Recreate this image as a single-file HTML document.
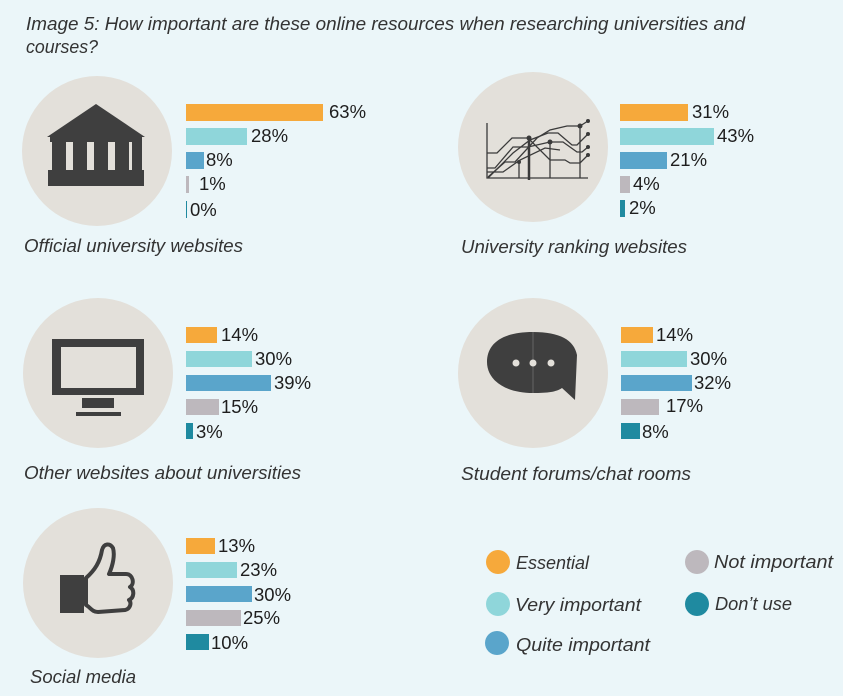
<!DOCTYPE html>
<html><head><meta charset="utf-8"><style>
html,body{margin:0;padding:0;background:#ebf6f9;}
svg{display:block;}
text{font-family:"Liberation Sans",sans-serif;}
.t{font-style:italic;fill:#333;font-size:18px;}
.p{fill:#1e1e1e;font-size:18.5px;}
</style></head><body>
<svg width="843" height="696" viewBox="0 0 843 696" xmlns="http://www.w3.org/2000/svg">
<rect width="843" height="696" fill="#ebf6f9"/>
<text class="t" x="26" y="30" textLength="719" lengthAdjust="spacingAndGlyphs">Image 5: How important are these online resources when researching universities and</text>
<text class="t" x="26" y="53" textLength="72" lengthAdjust="spacingAndGlyphs">courses?</text>

<g fill="#e3e0da">
<circle cx="97" cy="151" r="75"/>
<circle cx="533" cy="147" r="75"/>
<circle cx="98" cy="373" r="75"/>
<circle cx="533" cy="373" r="75"/>
<circle cx="98" cy="583" r="75"/>
</g>

<!-- building -->
<g fill="#3f3f3f">
<polygon points="96,104 145,137 47,137"/>
<rect x="50" y="137" width="92" height="5"/>
<rect x="52" y="142" width="14" height="28"/><rect x="73" y="142" width="14" height="28"/><rect x="94" y="142" width="14" height="28"/><rect x="115" y="142" width="14" height="28"/><rect x="132" y="142" width="10" height="28"/>
<rect x="48" y="170" width="96" height="16"/>
</g>

<!-- chart icon -->
<g fill="none" stroke="#3a3a3a" stroke-width="1.3">
<polyline points="487,123 487,178 588,178"/>
<polyline points="487,153 497,153 512,138 528,138 550,160 565,160 570,163 580,163 588,155"/>
<polyline points="487,168 495,168 513,147 528,147 550,142 563,142 577,152 582,152 588,147"/>
<polyline points="488,178 513,153 530,140 548,133 558,133 572,145 577,145 588,134"/>
<polyline points="488,177 505,162 515,162 537,138 550,130 567,126 580,126 588,121"/>
<polyline points="487,172 503,172 520,160 545,148 560,150"/>
<line x1="519" y1="162" x2="519" y2="178"/>
<line x1="529" y1="138" x2="529" y2="180" stroke-width="2.5"/>
<line x1="550" y1="142" x2="550" y2="178"/>
<line x1="580" y1="126" x2="580" y2="178"/>
</g>
<g fill="#3a3a3a"><circle cx="529" cy="138" r="2.5"/><circle cx="550" cy="142" r="2.5"/><circle cx="580" cy="126" r="2.5"/><circle cx="519" cy="162" r="2"/><circle cx="588" cy="121" r="2"/><circle cx="588" cy="134" r="2"/><circle cx="588" cy="147" r="2"/><circle cx="588" cy="155" r="2"/></g>

<!-- monitor -->
<g fill="#3f3f3f">
<rect x="52" y="339" width="92" height="56"/>
<rect x="82" y="398" width="32" height="10"/>
<rect x="76" y="412" width="45" height="4"/>
</g>
<rect x="61" y="347" width="75" height="41" fill="#e3e0da"/>

<!-- chat bubble -->
<path d="M533,332 C500,332 487,345 487,362 C487,380 505,393 533,393 C548,393 556,392 562,388 L575,400 L577,355 C574,340 560,332 533,332 Z" fill="#3f3f3f"/>
<line x1="533" y1="332" x2="533" y2="393" stroke="#777" stroke-width="0.7"/>
<g fill="#e3e0da"><circle cx="516" cy="363" r="3.5"/><circle cx="533" cy="363" r="3.5"/><circle cx="551" cy="363" r="3.5"/></g>

<!-- thumb -->
<rect x="60" y="575" width="24" height="38" fill="#3f3f3f"/>
<path d="M86,578 C95,570 100,562 102,550 C104,543 110,543 113,548 C115,555 113,565 109,574 L126,574 C133,574 135,584 130,587 C135,590 134,598 129,600 C132,603 130,609 125,610 L98,612 C92,612 90,607 86,605 Z" fill="none" stroke="#3f3f3f" stroke-width="4" stroke-linejoin="round"/>

<!-- bars row1 left -->
<rect x="186" y="104" width="137" height="17" fill="#f6a93b"/><text class="p" x="329" y="118">63%</text>
<rect x="186" y="128" width="61" height="17" fill="#8fd6da"/><text class="p" x="251" y="142">28%</text>
<rect x="186" y="152" width="18" height="17" fill="#5aa5cb"/><text class="p" x="206" y="166">8%</text>
<rect x="186" y="176" width="3" height="17" fill="#bdb8bd"/><text class="p" x="199" y="190">1%</text>
<rect x="186" y="201" width="1" height="17" fill="#1f8aa0"/><text class="p" x="190" y="216">0%</text>

<!-- row1 right -->
<rect x="620" y="104" width="68" height="17" fill="#f6a93b"/><text class="p" x="692" y="118">31%</text>
<rect x="620" y="128" width="94" height="17" fill="#8fd6da"/><text class="p" x="717" y="142">43%</text>
<rect x="620" y="152" width="47" height="17" fill="#5aa5cb"/><text class="p" x="670" y="166">21%</text>
<rect x="620" y="176" width="10" height="17" fill="#bdb8bd"/><text class="p" x="633" y="190">4%</text>
<rect x="620" y="200" width="5" height="17" fill="#1f8aa0"/><text class="p" x="629" y="214">2%</text>

<!-- row2 left -->
<rect x="186" y="327" width="31" height="16" fill="#f6a93b"/><text class="p" x="221" y="341">14%</text>
<rect x="186" y="351" width="66" height="16" fill="#8fd6da"/><text class="p" x="255" y="365">30%</text>
<rect x="186" y="375" width="85" height="16" fill="#5aa5cb"/><text class="p" x="274" y="389">39%</text>
<rect x="186" y="399" width="33" height="16" fill="#bdb8bd"/><text class="p" x="221" y="413">15%</text>
<rect x="186" y="423" width="7" height="16" fill="#1f8aa0"/><text class="p" x="196" y="438">3%</text>

<!-- row2 right -->
<rect x="621" y="327" width="32" height="16" fill="#f6a93b"/><text class="p" x="656" y="341">14%</text>
<rect x="621" y="351" width="66" height="16" fill="#8fd6da"/><text class="p" x="690" y="365">30%</text>
<rect x="621" y="375" width="71" height="16" fill="#5aa5cb"/><text class="p" x="694" y="389">32%</text>
<rect x="621" y="399" width="38" height="16" fill="#bdb8bd"/><text class="p" x="666" y="412">17%</text>
<rect x="621" y="423" width="19" height="16" fill="#1f8aa0"/><text class="p" x="642" y="438">8%</text>

<!-- row3 left -->
<rect x="186" y="538" width="29" height="16" fill="#f6a93b"/><text class="p" x="218" y="552">13%</text>
<rect x="186" y="562" width="51" height="16" fill="#8fd6da"/><text class="p" x="240" y="576">23%</text>
<rect x="186" y="586" width="66" height="16" fill="#5aa5cb"/><text class="p" x="254" y="601">30%</text>
<rect x="186" y="610" width="55" height="16" fill="#bdb8bd"/><text class="p" x="243" y="624">25%</text>
<rect x="186" y="634" width="23" height="16" fill="#1f8aa0"/><text class="p" x="211" y="649">10%</text>

<!-- labels -->
<text class="t" x="24" y="252" textLength="219" lengthAdjust="spacingAndGlyphs">Official university websites</text>
<text class="t" x="461" y="253" textLength="226" lengthAdjust="spacingAndGlyphs">University ranking websites</text>
<text class="t" x="24" y="479" textLength="277" lengthAdjust="spacingAndGlyphs">Other websites about universities</text>
<text class="t" x="461" y="480" textLength="230" lengthAdjust="spacingAndGlyphs">Student forums/chat rooms</text>
<text class="t" x="30" y="683" textLength="106" lengthAdjust="spacingAndGlyphs">Social media</text>

<!-- legend -->
<circle cx="498" cy="562" r="12" fill="#f6a93b"/><text class="t" x="516" y="569" textLength="73" lengthAdjust="spacingAndGlyphs">Essential</text>
<circle cx="498" cy="604" r="12" fill="#8fd6da"/><text class="t" x="515" y="611" textLength="126" lengthAdjust="spacingAndGlyphs">Very important</text>
<circle cx="497" cy="643" r="12" fill="#5aa5cb"/><text class="t" x="516" y="651" textLength="134" lengthAdjust="spacingAndGlyphs">Quite important</text>
<circle cx="697" cy="562" r="12" fill="#bdb8bd"/><text class="t" x="714" y="568" textLength="119" lengthAdjust="spacingAndGlyphs">Not important</text>
<circle cx="697" cy="604" r="12" fill="#1f8aa0"/><text class="t" x="715" y="610" textLength="77" lengthAdjust="spacingAndGlyphs">Don’t use</text>
</svg>
</body></html>
